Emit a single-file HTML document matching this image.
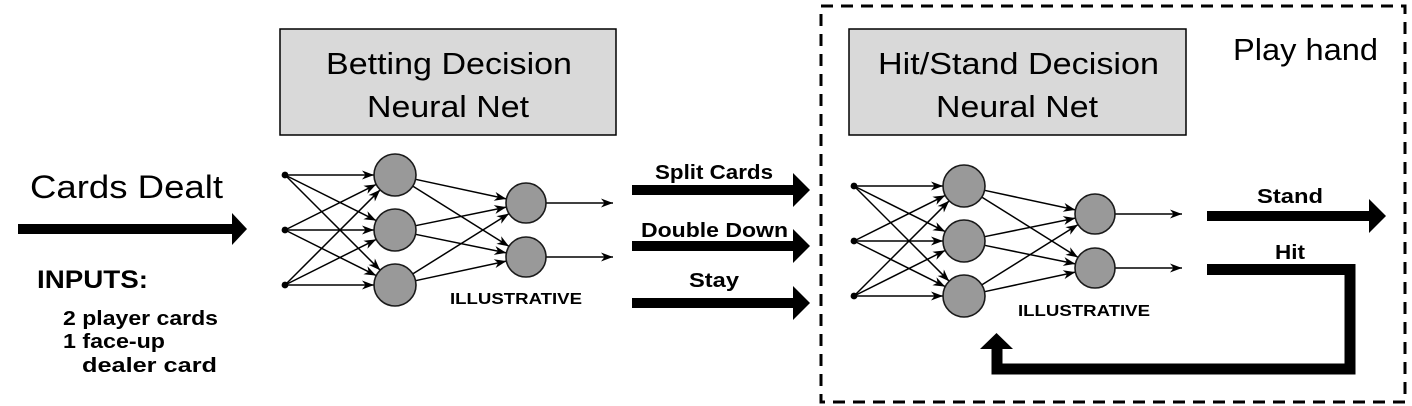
<!DOCTYPE html>
<html><head><meta charset="utf-8"><style>
html,body{margin:0;padding:0;background:#fff;width:1412px;height:406px;overflow:hidden}
svg{display:block}
text{font-family:"Liberation Sans",Arial,sans-serif;fill:#000}
.b{font-weight:bold}
</style></head><body>
<svg width="1412" height="406" viewBox="0 0 1412 406" xmlns="http://www.w3.org/2000/svg">
<defs>
<marker id="ah" viewBox="0 0 12 9" refX="12" refY="4.5" markerWidth="13" markerHeight="9" markerUnits="userSpaceOnUse" orient="auto">
<path d="M0,0 L12,4.5 L0,9 L3.5,4.5 Z" fill="#000"/>
</marker>
<g id="net">
<g stroke="#000" stroke-width="1.5" fill="none" marker-end="url(#ah)">
<line x1="285" y1="175" x2="374" y2="175"/>
<line x1="285" y1="175" x2="376.2" y2="220.6"/>
<line x1="285" y1="175" x2="380.2" y2="270.2"/>
<line x1="285" y1="230" x2="376.2" y2="184.4"/>
<line x1="285" y1="230" x2="374" y2="230"/>
<line x1="285" y1="230" x2="376.2" y2="275.6"/>
<line x1="285" y1="285" x2="380.2" y2="189.8"/>
<line x1="285" y1="285" x2="376.2" y2="239.4"/>
<line x1="285" y1="285" x2="374" y2="285"/>
<line x1="415.5" y1="179.3" x2="506.4" y2="198.9"/>
<line x1="412.8" y1="186.1" x2="509" y2="246.4"/>
<line x1="415.5" y1="225.7" x2="506.4" y2="207.1"/>
<line x1="415.5" y1="234.3" x2="506.4" y2="252.9"/>
<line x1="412.8" y1="273.9" x2="509" y2="213.6"/>
<line x1="415.5" y1="280.7" x2="506.4" y2="261.1"/>
<line x1="546" y1="203" x2="613" y2="203"/>
<line x1="546" y1="257" x2="613" y2="257"/>
</g>
<g fill="#000"><circle cx="285" cy="175" r="3.4"/><circle cx="285" cy="230" r="3.4"/><circle cx="285" cy="285" r="3.4"/></g>
<g fill="#999" stroke="#1a1a1a" stroke-width="1.6">
<circle cx="395" cy="175" r="21"/><circle cx="395" cy="230" r="21"/><circle cx="395" cy="285" r="21"/>
<circle cx="526" cy="203" r="20"/><circle cx="526" cy="257" r="20"/>
</g>
</g>
</defs>

<rect x="821" y="6" width="584" height="396" fill="none" stroke="#000" stroke-width="3" stroke-dasharray="12 8"/>

<rect x="280" y="29" width="336" height="106" fill="#d9d9d9" stroke="#000" stroke-width="1.5"/>
<text x="326" y="74" font-size="31" textLength="246" lengthAdjust="spacingAndGlyphs">Betting Decision</text>
<text x="367" y="117" font-size="31" textLength="162" lengthAdjust="spacingAndGlyphs">Neural Net</text>

<rect x="849" y="29" width="337" height="106" fill="#d9d9d9" stroke="#000" stroke-width="1.5"/>
<text x="878" y="74" font-size="31" textLength="281" lengthAdjust="spacingAndGlyphs">Hit/Stand Decision</text>
<text x="936" y="117" font-size="31" textLength="162" lengthAdjust="spacingAndGlyphs">Neural Net</text>

<text x="1233" y="60" font-size="31" textLength="145" lengthAdjust="spacingAndGlyphs">Play hand</text>

<text x="30" y="198" font-size="32" textLength="193" lengthAdjust="spacingAndGlyphs">Cards Dealt</text>
<polygon points="18,224 232,224 232,213 247,229 232,245 232,234 18,234" fill="#000"/>
<text class="b" x="37" y="288" font-size="25" textLength="111" lengthAdjust="spacingAndGlyphs">INPUTS:</text>
<text class="b" x="63" y="325" font-size="20" textLength="155" lengthAdjust="spacingAndGlyphs">2 player cards</text>
<text class="b" x="63" y="348" font-size="20" textLength="102" lengthAdjust="spacingAndGlyphs">1 face-up</text>
<text class="b" x="82" y="372" font-size="20" textLength="135" lengthAdjust="spacingAndGlyphs">dealer card</text>

<use href="#net"/>
<use href="#net" transform="translate(569,11)"/>
<text class="b" x="450" y="304" font-size="16" textLength="132" lengthAdjust="spacingAndGlyphs">ILLUSTRATIVE</text>
<text class="b" x="1018" y="316" font-size="16" textLength="132" lengthAdjust="spacingAndGlyphs">ILLUSTRATIVE</text>

<text class="b" x="655" y="179" font-size="20" textLength="118" lengthAdjust="spacingAndGlyphs">Split Cards</text>
<polygon points="632,185 793,185 793,173 810,190 793,207 793,195 632,195" fill="#000"/>
<text class="b" x="641" y="237" font-size="20" textLength="147" lengthAdjust="spacingAndGlyphs">Double Down</text>
<polygon points="632,241 793,241 793,229 810,246 793,263 793,251 632,251" fill="#000"/>
<text class="b" x="689" y="287" font-size="20" textLength="50" lengthAdjust="spacingAndGlyphs">Stay</text>
<polygon points="632,298 793,298 793,286 810,303 793,320 793,308 632,308" fill="#000"/>

<text class="b" x="1257" y="203" font-size="20" textLength="66" lengthAdjust="spacingAndGlyphs">Stand</text>
<polygon points="1207,211 1369,211 1369,199 1386,216 1369,233 1369,221 1207,221" fill="#000"/>
<text class="b" x="1275" y="259" font-size="20" textLength="30" lengthAdjust="spacingAndGlyphs">Hit</text>
<polyline points="1207,269.5 1350,269.5 1350,369 997,369 997,348" fill="none" stroke="#000" stroke-width="11" stroke-linejoin="miter"/>
<polygon points="980,349 1013,349 996.5,333" fill="#000"/>
</svg>
</body></html>
